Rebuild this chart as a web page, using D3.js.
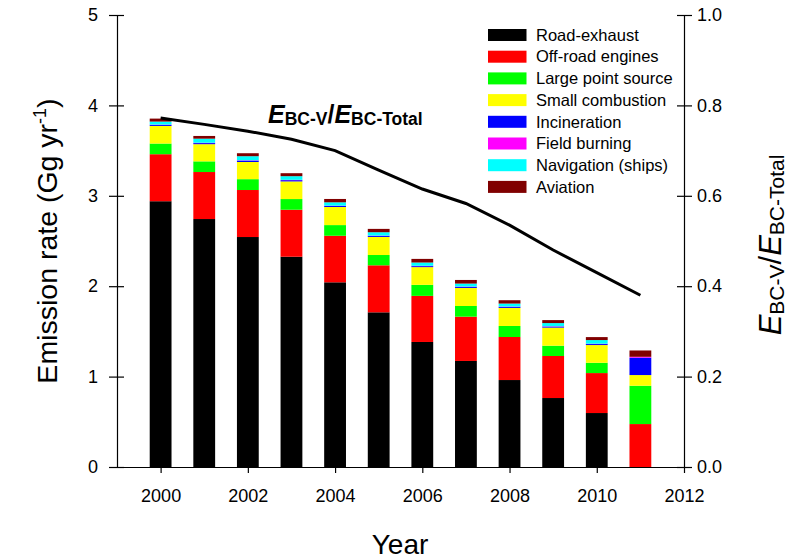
<!DOCTYPE html>
<html>
<head>
<meta charset="utf-8">
<script src="https://cdn.jsdelivr.net/npm/d3@7"></script>
<style>
  body { margin: 0; background: #fff; }
  svg { display: block; font-family: "Liberation Sans", Arial, sans-serif; }
</style>
</head>
<body>
<svg id="chart" width="798" height="559"></svg>
<script>
// ---- data ----
const years = [2000, 2001, 2002, 2003, 2004, 2005, 2006, 2007, 2008, 2009, 2010, 2011];
const seriesNames = ["Road-exhaust", "Off-road engines", "Large point source", "Small combustion",
                     "Incineration", "Field burning", "Navigation (ships)", "Aviation"];
const seriesColors = ["#000000", "#ff0000", "#00ff00", "#ffff00", "#0000ff", "#ff00ff", "#00ffff", "#800000"];
const roadExhaust   = [2.94, 2.743, 2.544, 2.326, 2.043, 1.711, 1.383, 1.173, 0.962, 0.763, 0.597, 0];
const offRoad       = [0.52, 0.52, 0.52, 0.52, 0.515, 0.52, 0.51, 0.49, 0.476, 0.465, 0.442, 0.475];
const largePoint    = [0.118, 0.118, 0.12, 0.118, 0.118, 0.114, 0.122, 0.118, 0.122, 0.114, 0.114, 0.424];
const smallComb     = [0.195, 0.19, 0.19, 0.195, 0.2, 0.2, 0.196, 0.2, 0.2, 0.2, 0.196, 0.118];
const incineration  = [0.011, 0.012, 0.015, 0.014, 0.011, 0.011, 0.011, 0.011, 0.011, 0.011, 0.011, 0.192];
const fieldBurning  = [0.004, 0.004, 0.004, 0.004, 0.004, 0.004, 0.004, 0.004, 0.004, 0.004, 0.004, 0.01];
const navigation    = [0.033, 0.045, 0.045, 0.04, 0.037, 0.037, 0.036, 0.033, 0.033, 0.035, 0.04, 0];
const aviation      = [0.033, 0.03, 0.033, 0.033, 0.037, 0.037, 0.04, 0.04, 0.037, 0.033, 0.033, 0.07];
const ratioVtoTotal = [0.772, 0.758, 0.743, 0.725, 0.70, 0.657, 0.615, 0.583, 0.535, 0.48, 0.43, 0.38];
const xTicks = [2000, 2002, 2004, 2006, 2008, 2010, 2012];
const yTicks = [0, 1, 2, 3, 4, 5];
const y2Ticks = [0, 0.2, 0.4, 0.6, 0.8, 1.0];

const seriesValues = [roadExhaust, offRoad, largePoint, smallComb, incineration, fieldBurning, navigation, aviation];
const table = years.map((yr, i) => {
  const row = { year: yr };
  seriesNames.forEach((n, k) => row[n] = seriesValues[k][i]);
  return row;
});

// ---- layout ----
const svg = d3.select("#chart");
const mLeft = 117, mRight = 684, mTop = 15, mBottom = 467;
const x = d3.scaleLinear().domain([1999, 2012]).range([mLeft, mRight]);
const y = d3.scaleLinear().domain([0, 5]).range([mBottom, mTop]);
const y2 = d3.scaleLinear().domain([0, 1]).range([mBottom, mTop]);
const barW = x(2000.25) - x(1999.75);

// ---- bars ----
const stacked = d3.stack().keys(seriesNames)(table);
const color = d3.scaleOrdinal().domain(seriesNames).range(seriesColors);
svg.append("g").selectAll("g").data(stacked).join("g")
  .attr("fill", d => color(d.key))
  .selectAll("rect").data(d => d).join("rect")
  .attr("x", d => x(d.data.year) - barW / 2)
  .attr("width", barW)
  .attr("y", d => y(d[1]))
  .attr("height", d => Math.max(0, y(d[0]) - y(d[1])));

// ---- ratio line ----
svg.append("path")
  .datum(years.map((yr, i) => [yr, ratioVtoTotal[i]]))
  .attr("fill", "none").attr("stroke", "#000").attr("stroke-width", 3)
  .attr("d", d3.line().x(d => x(d[0])).y(d => y2(d[1])));

// ---- axes ----
const fs = "18px";
const gL = svg.append("g").attr("transform", `translate(${mLeft},0)`)
  .call(d3.axisLeft(y).tickValues(yTicks).tickFormat(d3.format("d")).tickSize(8).tickSizeOuter(0).tickPadding(11));
gL.selectAll(".tick line").attr("x1", 7).attr("x2", -8);

const gR = svg.append("g").attr("transform", `translate(${mRight},0)`)
  .call(d3.axisRight(y2).tickValues(y2Ticks).tickFormat(d3.format(".1f")).tickSize(8).tickSizeOuter(0).tickPadding(5));
gR.selectAll(".tick line").attr("x1", -7).attr("x2", 8);

const gB = svg.append("g").attr("transform", `translate(0,${mBottom})`)
  .call(d3.axisBottom(x).tickValues(xTicks).tickFormat(d3.format("d")).tickSize(6).tickSizeOuter(0).tickPadding(16));

[gL, gR, gB].forEach(g => {
  g.selectAll("text").attr("font-size", fs).attr("fill", "#000")
    .attr("font-family", "'Liberation Sans', Arial, sans-serif");
  g.selectAll("line, path").attr("stroke", "#000").attr("stroke-width", 1.2);
});

// ---- axis titles ----
svg.append("text").attr("x", 400).attr("y", 554).attr("text-anchor", "middle")
  .attr("font-size", "28px").text("Year");

const yl = svg.append("text").attr("transform", `translate(57,${(mTop + mBottom) / 2}) rotate(-90)`)
  .attr("text-anchor", "middle").attr("font-size", "28.5px");
yl.append("tspan").text("Emission rate (Gg yr");
yl.append("tspan").attr("font-size", "18px").attr("dy", "-11").text("-1");
yl.append("tspan").attr("dy", "11").text(")");

const yr = svg.append("text").attr("transform", `translate(781,${(mTop + mBottom) / 2 + 4}) rotate(-90)`)
  .attr("text-anchor", "middle").attr("font-size", "21px");
yr.append("tspan").attr("font-size", "31px").attr("font-style", "italic").text("E");
yr.append("tspan").attr("dy", "3").text("BC-V");
yr.append("tspan").attr("dy", "-3").attr("font-size", "31px").text("/");
yr.append("tspan").attr("font-size", "31px").attr("font-style", "italic").text("E");
yr.append("tspan").attr("dy", "3").text("BC-Total");

// ---- in-plot annotation ----
const ann = svg.append("text").attr("x", 268).attr("y", 123).attr("font-weight", "bold").attr("font-size", "17.5px");
ann.append("tspan").attr("font-size", "25px").attr("font-style", "italic").text("E");
ann.append("tspan").attr("dy", "2").text("BC-V");
ann.append("tspan").attr("dy", "-2").attr("font-size", "25px").text("/");
ann.append("tspan").attr("font-size", "25px").attr("font-style", "italic").text("E");
ann.append("tspan").attr("dy", "2").text("BC-Total");

// ---- legend ----
const leg = svg.append("g");
const legRows = leg.selectAll("g").data(seriesNames).join("g")
  .attr("transform", (d, i) => `translate(488,${35 + i * 21.7})`);
legRows.append("rect").attr("x", 0).attr("y", -6).attr("width", 38.5).attr("height", 12)
  .attr("fill", d => color(d));
legRows.append("text").attr("x", 48).attr("y", 0).attr("dy", "0.35em")
  .attr("font-size", "16.5px").text(d => d);
</script>
</body>
</html>
